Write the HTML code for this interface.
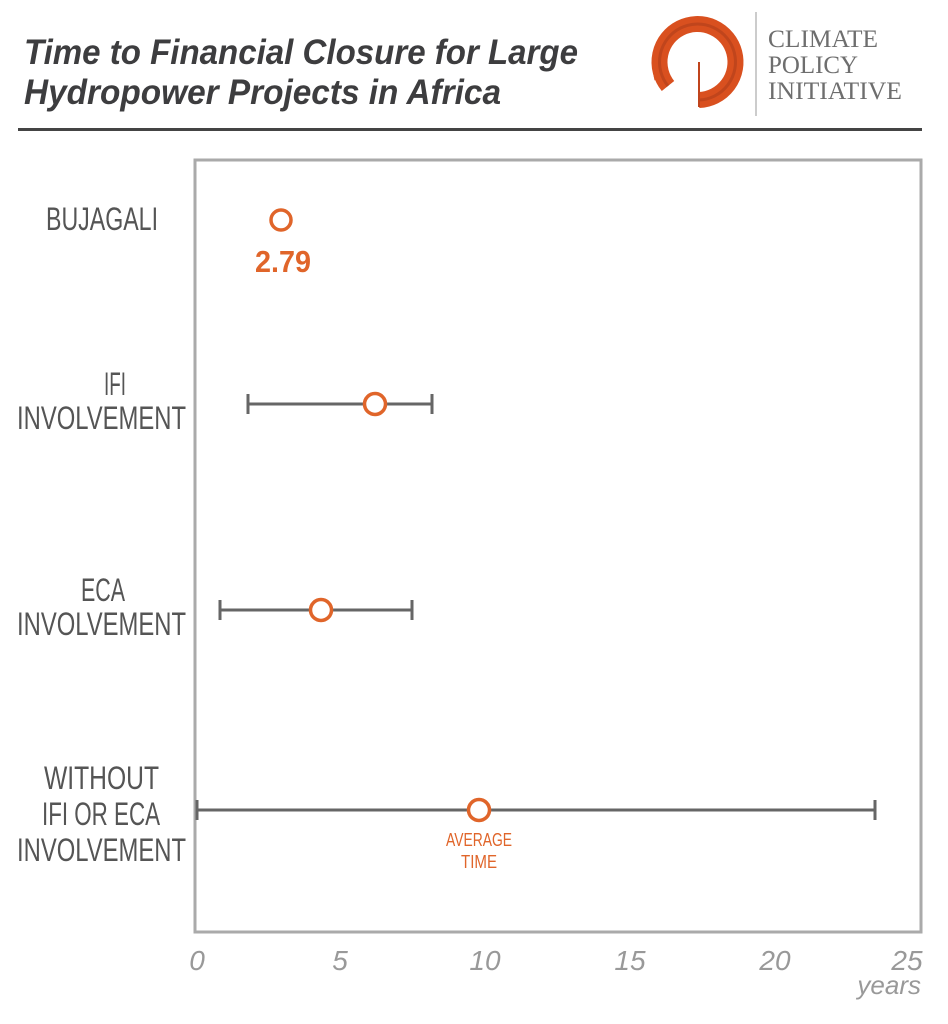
<!DOCTYPE html>
<html><head><meta charset="utf-8"><style>
html,body{margin:0;padding:0;background:#fff;}
svg{display:block;}
</style></head><body>
<svg width="948" height="1024" viewBox="0 0 948 1024" xmlns="http://www.w3.org/2000/svg">
<rect width="948" height="1024" fill="#fff"/>
<g font-family="Liberation Sans, sans-serif" font-weight="bold" font-style="italic" fill="#3d3d3f" font-size="35">
<text x="24" y="64" textLength="554" lengthAdjust="spacingAndGlyphs">Time to Financial Closure for Large</text>
<text x="24" y="104" textLength="477" lengthAdjust="spacingAndGlyphs">Hydropower Projects in Africa</text>
</g>
<rect x="18" y="128" width="904" height="3" fill="#444"/>
<!-- logo -->
<path d="M 668 86 A 38 38 0 1 1 699 100" fill="none" stroke="#d9501f" stroke-width="16"/>
<path d="M 668 86 A 38 38 0 1 1 699 100" fill="none" stroke="#a8391a" stroke-width="3" opacity="0.5"/>
<path d="M 656 80 A 48 48 0 0 1 658 50" fill="none" stroke="#d9501f" stroke-width="3"/>
<line x1="699" y1="62" x2="699" y2="107" stroke="#c0441c" stroke-width="2"/>
<line x1="756" y1="12" x2="756" y2="116" stroke="#bbb" stroke-width="1.5"/>
<g font-family="Liberation Serif, serif" fill="#6e6e6e" font-size="25">
<text x="768" y="47" textLength="110" lengthAdjust="spacingAndGlyphs">CLIMATE</text>
<text x="768" y="73" textLength="90" lengthAdjust="spacingAndGlyphs">POLICY</text>
<text x="768" y="99" textLength="134" lengthAdjust="spacingAndGlyphs">INITIATIVE</text>
</g>
<!-- plot box -->
<rect x="195" y="160" width="726" height="772" fill="none" stroke="#aaa" stroke-width="3"/>
<!-- category labels -->
<g font-family="Liberation Sans, sans-serif" fill="#555" font-size="32">
<text x="46" y="230" textLength="112" lengthAdjust="spacingAndGlyphs">BUJAGALI</text>
<text x="104" y="395" textLength="22" lengthAdjust="spacingAndGlyphs">IFI</text>
<text x="17" y="429" textLength="169" lengthAdjust="spacingAndGlyphs">INVOLVEMENT</text>
<text x="81" y="601" textLength="44" lengthAdjust="spacingAndGlyphs">ECA</text>
<text x="17" y="635" textLength="169" lengthAdjust="spacingAndGlyphs">INVOLVEMENT</text>
<text x="44" y="789" textLength="115" lengthAdjust="spacingAndGlyphs">WITHOUT</text>
<text x="42" y="825" textLength="118" lengthAdjust="spacingAndGlyphs">IFI OR ECA</text>
<text x="17" y="861" textLength="169" lengthAdjust="spacingAndGlyphs">INVOLVEMENT</text>
</g>
<!-- error bars -->
<g stroke="#666" stroke-width="3" fill="none">
<line x1="248" y1="404" x2="432" y2="404"/><line x1="248" y1="394" x2="248" y2="414"/><line x1="432" y1="394" x2="432" y2="414"/>
<line x1="220" y1="610" x2="412" y2="610"/><line x1="220" y1="600" x2="220" y2="620"/><line x1="412" y1="600" x2="412" y2="620"/>
<line x1="197" y1="810" x2="875" y2="810"/><line x1="197" y1="800" x2="197" y2="820"/><line x1="875" y1="800" x2="875" y2="820"/>
</g>
<g fill="#fff" stroke="#e0652a" stroke-width="3.5">
<circle cx="281" cy="220" r="10"/>
<circle cx="375" cy="404" r="10.5"/>
<circle cx="321" cy="610" r="10.5"/>
<circle cx="479" cy="810" r="10.5"/>
</g>
<text x="255" y="272" font-family="Liberation Sans, sans-serif" font-weight="bold" font-size="31" fill="#e0652a" textLength="56" lengthAdjust="spacingAndGlyphs">2.79</text>
<g font-family="Liberation Sans, sans-serif" font-size="18" fill="#e0652a" text-anchor="middle">
<text x="479" y="846" textLength="66" lengthAdjust="spacingAndGlyphs">AVERAGE</text>
<text x="479" y="868" textLength="36" lengthAdjust="spacingAndGlyphs">TIME</text>
</g>
<!-- axis -->
<g font-family="Liberation Sans, sans-serif" font-style="italic" font-size="28" fill="#999" text-anchor="middle">
<text x="197" y="970">0</text>
<text x="340" y="970">5</text>
<text x="485" y="970">10</text>
<text x="630" y="970">15</text>
<text x="775" y="970">20</text>
<text x="907" y="970">25</text>
<text x="921" y="994" text-anchor="end" font-size="26">years</text>
</g>
</svg>
</body></html>
